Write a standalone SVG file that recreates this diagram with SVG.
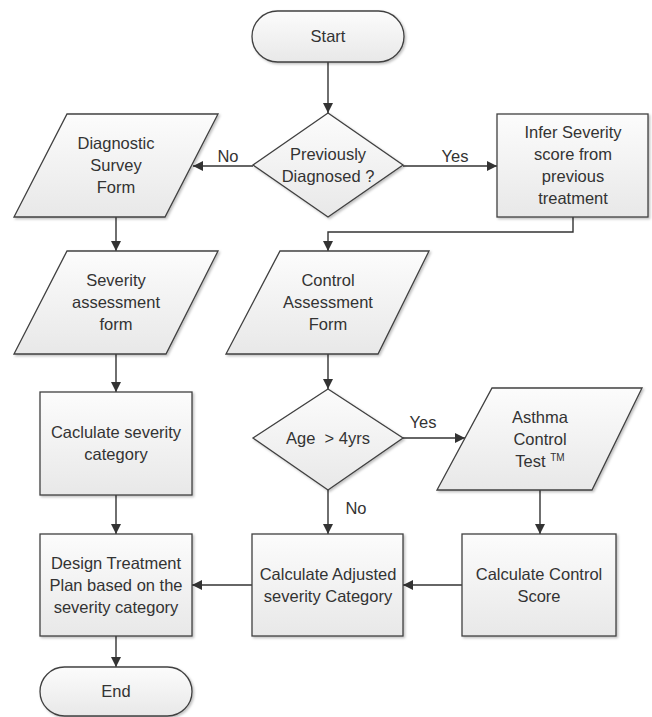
<svg xmlns="http://www.w3.org/2000/svg" width="652" height="717" viewBox="0 0 652 717">
<defs>
<linearGradient id="g" x1="0" y1="0" x2="0" y2="1">
<stop offset="0" stop-color="#fcfcfc"/>
<stop offset="1" stop-color="#e8e8e8"/>
</linearGradient>
<filter id="sh" x="-10%" y="-10%" width="125%" height="125%">
<feDropShadow dx="1.5" dy="1.5" stdDeviation="1.2" flood-color="#000" flood-opacity="0.25"/>
</filter>
<marker id="ah" viewBox="0 0 10 10" refX="10" refY="5" markerWidth="10" markerHeight="10" markerUnits="userSpaceOnUse" orient="auto">
<path d="M0,0 L10,5 L0,10 z" fill="#333"/>
</marker>
</defs>
<style>
.s{fill:url(#g);stroke:#404040;stroke-width:1.3;filter:url(#sh)}
.t{font-family:"Liberation Sans",Arial,sans-serif;font-size:16.5px;fill:#333;text-anchor:middle;white-space:pre}
.c{fill:none;stroke:#333;stroke-width:1.4;marker-end:url(#ah)}
</style>
<rect width="652" height="717" fill="#fff"/>
<g id="connectors">
<path class="c" d="M328,62 V113"/>
<path class="c" d="M253,166 H193"/>
<path class="c" d="M403,166 H497"/>
<path class="c" d="M573,217 V232 H328 V251"/>
<path class="c" d="M116,217 V251"/>
<path class="c" d="M116,354 V392"/>
<path class="c" d="M116,495 V534"/>
<path class="c" d="M116,636 V667"/>
<path class="c" d="M328,354 V389"/>
<path class="c" d="M403,438 H465"/>
<path class="c" d="M328,490 V534"/>
<path class="c" d="M540,490 V534"/>
<path class="c" d="M462,585 H403"/>
<path class="c" d="M252,585 H192"/>
<text class="t" x="228" y="162">No</text>
<text class="t" x="455" y="162">Yes</text>
<text class="t" x="423" y="428">Yes</text>
<text class="t" x="356" y="514">No</text>
</g>
<g id="start">
<rect class="s" x="252" y="11" width="152" height="51" rx="25.5"/>
<text class="t" x="328" y="42">Start</text>
</g>
<g id="previously-diagnosed">
<polygon class="s" points="328,113 403,165 328,217 253,165"/>
<text class="t" x="328" y="160">Previously</text>
<text class="t" x="328" y="182">Diagnosed ?</text>
</g>
<g id="diagnostic-survey">
<polygon class="s" points="67,114 218,114 165,217 14,217"/>
<text class="t" x="116" y="149">Diagnostic</text>
<text class="t" x="116" y="171">Survey</text>
<text class="t" x="116" y="193">Form</text>
</g>
<g id="infer-severity">
<rect class="s" x="497" y="114" width="151" height="103"/>
<text class="t" x="573" y="138">Infer Severity</text>
<text class="t" x="573" y="160">score from</text>
<text class="t" x="573" y="182">previous</text>
<text class="t" x="573" y="204">treatment</text>
</g>
<g id="severity-assessment">
<polygon class="s" points="67,251 218,251 166,354 14,354"/>
<text class="t" x="116" y="286">Severity</text>
<text class="t" x="116" y="308">assessment</text>
<text class="t" x="116" y="330">form</text>
</g>
<g id="control-assessment">
<polygon class="s" points="280,251 429,251 378,354 226,354"/>
<text class="t" x="328" y="286">Control</text>
<text class="t" x="328" y="308">Assessment</text>
<text class="t" x="328" y="330">Form</text>
</g>
<g id="caclulate-severity">
<rect class="s" x="40" y="392" width="152" height="103"/>
<text class="t" x="116" y="438">Caclulate severity</text>
<text class="t" x="116" y="460">category</text>
</g>
<g id="age">
<polygon class="s" points="328,389 403,438 328,490 253,438"/>
<text class="t" x="328" y="444">Age  &gt; 4yrs</text>
</g>
<g id="asthma-control-test">
<polygon class="s" points="492,388 642,388 592,490 437,490"/>
<text class="t" x="540" y="423">Asthma</text>
<text class="t" x="540" y="445">Control</text>
<text class="t" x="540" y="467">Test <tspan font-size="10" dy="-6">TM</tspan></text>
</g>
<g id="design-treatment">
<rect class="s" x="40" y="534" width="152" height="102"/>
<text class="t" x="116" y="569">Design Treatment</text>
<text class="t" x="116" y="591">Plan based on the</text>
<text class="t" x="116" y="613">severity category</text>
</g>
<g id="calculate-adjusted">
<rect class="s" x="252" y="534" width="151" height="102"/>
<text class="t" x="328" y="580">Calculate Adjusted</text>
<text class="t" x="328" y="602">severity Category</text>
</g>
<g id="calculate-control">
<rect class="s" x="462" y="534" width="154" height="102"/>
<text class="t" x="539" y="580">Calculate Control</text>
<text class="t" x="539" y="602">Score</text>
</g>
<g id="end">
<rect class="s" x="40" y="667" width="152" height="49" rx="24.5"/>
<text class="t" x="116" y="697">End</text>
</g>
</svg>
